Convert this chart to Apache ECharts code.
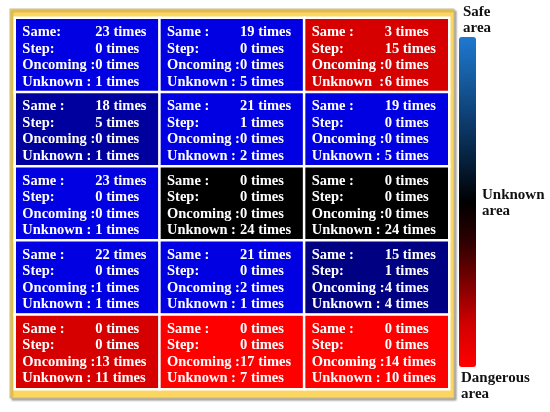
<!DOCTYPE html>
<html>
<head>
<meta charset="utf-8">
<script src="https://cdn.jsdelivr.net/npm/echarts@6/dist/echarts.min.js"></script>
<style>
  html, body { margin: 0; padding: 0; background: #fff; }
  #main { width: 550px; height: 412px; }
</style>
</head>
<body>
<div id="main"></div>
<script>
// grid cells, row by row (3 columns x 5 rows)
const cols = ["c1", "c2", "c3"];
const rows = ["r1", "r2", "r3", "r4", "r5"];
const same     = [23, 19, 3, 18, 21, 19, 23, 0, 0, 22, 21, 15, 0, 0, 0];
const step     = [0, 0, 15, 5, 1, 0, 0, 0, 0, 0, 0, 1, 0, 0, 0];
const oncoming = [0, 0, 0, 0, 0, 0, 0, 0, 0, 1, 2, 4, 13, 17, 14];
const unknown  = [1, 5, 6, 1, 2, 5, 1, 24, 24, 1, 1, 4, 11, 7, 10];
// zone level of each cell: >0 safe (blue), 0 unknown (black), <0 dangerous (red)
const zone     = [3, 3, -2, 2, 3, 3, 3, 0, 0, 3, 3, 1, -2, -3, -3];
// row labels as written in each cell
const sameLbl    = ["Same:", "Same :", "Same :", "Same :", "Same :", "Same :", "Same :", "Same :", "Same :",
                    "Same :", "Same :", "Same :", "Same :", "Same :", "Same :"];
const unknownLbl = ["Unknown :", "Unknown :", "Unknown  :", "Unknown :", "Unknown :", "Unknown :", "Unknown :",
                    "Unknown :", "Unknown :", "Unknown :", "Unknown :", "Unknown :", "Unknown :", "Unknown :", "Unknown :"];

const FONT = "'Liberation Serif', 'DejaVu Serif', serif";

const cells = zone.map((z, i) => [i % 3, Math.floor(i / 3), z]);

const chart = echarts.init(document.getElementById("main"), null, { renderer: "canvas" });

chart.setOption({
  animation: false,
  graphic: [
    {
      type: "rect", z: -10,
      shape: { x: 10, y: 9, width: 444, height: 389 },
      style: { fill: "#fcd660", stroke: "#c8bb8c", lineWidth: 1,
               shadowColor: "rgba(0,0,0,0.35)", shadowOffsetX: 2, shadowOffsetY: 2, shadowBlur: 2 }
    },
    {
      type: "rect", z: -9,
      shape: { x: 15, y: 18, width: 434, height: 371 },
      style: { fill: "#fff" }
    },
    {
      type: "text", left: 463, top: 4, z: 10,
      style: { text: "Safe\narea", font: "bold 15px " + FONT, lineHeight: 16, fill: "#111" }
    },
    {
      type: "text", left: 482, top: 187, z: 10,
      style: { text: "Unknown\narea", font: "bold 15px " + FONT, lineHeight: 16, fill: "#111" }
    },
    {
      type: "text", left: 461, top: 370, z: 10,
      style: { text: "Dangerous\narea", font: "bold 15px " + FONT, lineHeight: 16, fill: "#111" }
    }
  ],
  grid: { left: 15, top: 18, width: 434, height: 371 },
  xAxis: { type: "category", data: cols, show: false },
  yAxis: { type: "category", data: rows, show: false, inverse: true },
  visualMap: [
    {
      type: "piecewise", show: false, seriesIndex: 0, dimension: 2,
      pieces: [
        { value: 3, color: "#0000e2" },
        { value: 2, color: "#00009e" },
        { value: 1, color: "#000082" },
        { value: 0, color: "#000000" },
        { value: -2, color: "#d60000" },
        { value: -3, color: "#ff0000" }
      ]
    },
    {
      type: "continuous", seriesIndex: [], min: -1, max: 1,
      orient: "vertical", left: 459, top: 37, padding: 0,
      itemWidth: 17, itemHeight: 330, calculable: false, text: null,
      hoverLink: false,
      inRange: { color: ["#ff0000", "#d40000", "#800000", "#300000", "#000000",
                         "#06203c", "#0d3d70", "#165ca0", "#1e78d0"] }
    }
  ],
  series: [{
    type: "heatmap",
    data: cells,
    itemStyle: { borderColor: "#fff", borderWidth: 2.5 },
    emphasis: { disabled: true },
    label: {
      show: true,
      offset: [1, 2],
      formatter: p => {
        const i = p.dataIndex;
        return [
          `{a|${sameLbl[i]}}{b|${same[i]} times}`,
          `{a|Step:}{b|${step[i]} times}`,
          `{a|Oncoming :}{b|${oncoming[i]} times}`,
          `{a|${unknownLbl[i]}}{b|${unknown[i]} times}`
        ].join("\n");
      },
      rich: {
        a: { width: 73, align: "left", color: "#fff", fontFamily: FONT, fontWeight: "bold", fontSize: 14.5, lineHeight: 16.5 },
        b: { width: 59, align: "left", color: "#fff", fontFamily: FONT, fontWeight: "bold", fontSize: 14.5, lineHeight: 16.5 }
      }
    }
  }]
});
</script>
</body>
</html>
